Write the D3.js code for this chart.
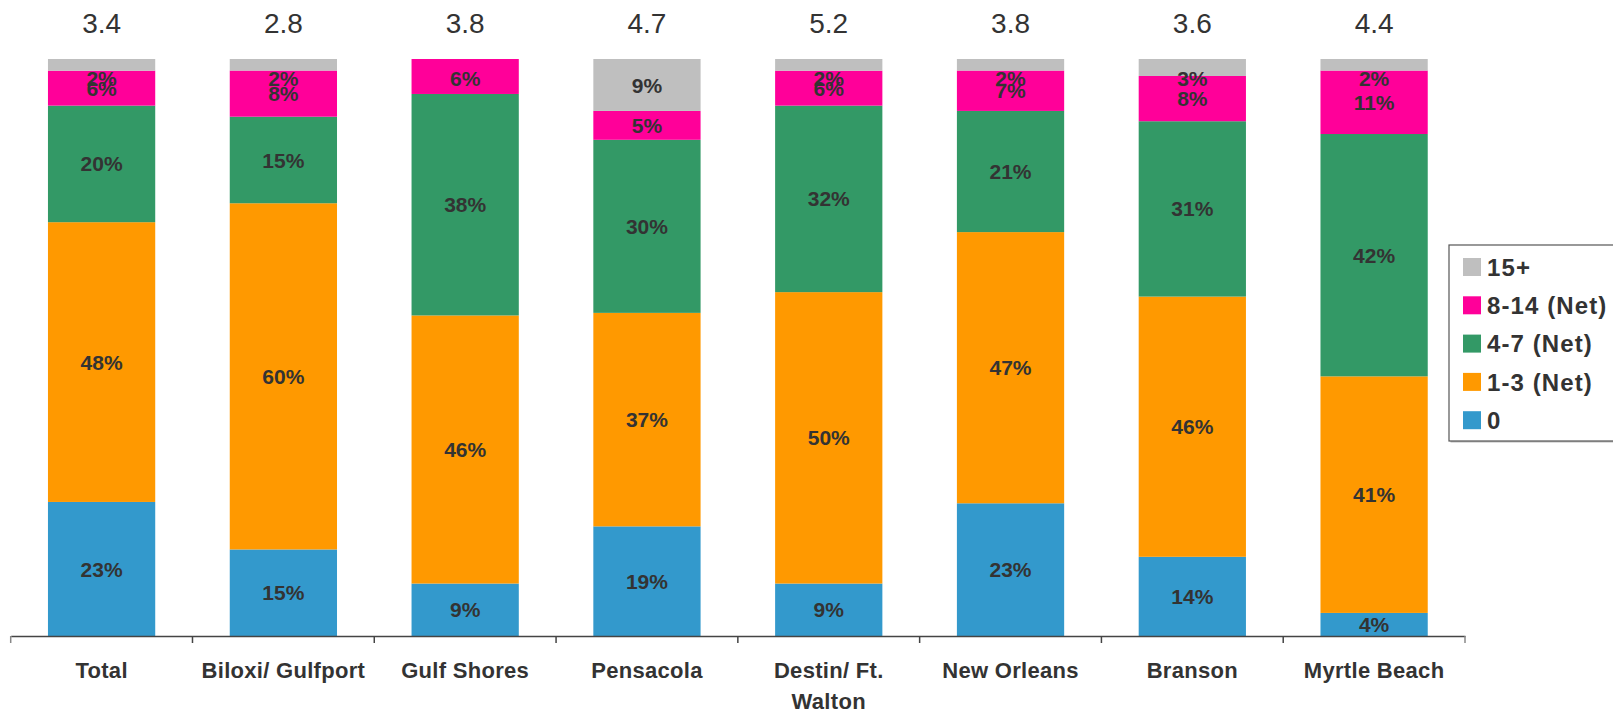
<!DOCTYPE html>
<html>
<head>
<meta charset="utf-8">
<script src="https://cdn.jsdelivr.net/npm/d3@7"></script>
<style>
  body { margin: 0; background: #fff; }
  svg { display: block; font-family: "Liberation Sans", Arial, sans-serif; }
</style>
</head>
<body>
<div id="container"></div>
<script>
// data
let categories = ["Total", "Biloxi/ Gulfport", "Gulf Shores", "Pensacola", "Destin/ Ft. Walton", "New Orleans", "Branson", "Myrtle Beach"];
let averages = [3.4, 2.8, 3.8, 4.7, 5.2, 3.8, 3.6, 4.4];
let seriesNames = ["0", "1-3 (Net)", "4-7 (Net)", "8-14 (Net)", "15+"];
let zero = [23, 15, 9, 19, 9, 23, 14, 4];
let oneToThree = [48, 60, 46, 37, 50, 47, 46, 41];
let fourToSeven = [20, 15, 38, 30, 32, 21, 31, 42];
let eightToFourteen = [6, 8, 6, 5, 6, 7, 8, 11];
let fifteenPlus = [2, 2, 0, 9, 2, 2, 3, 2];
let colors = ["#3399CC", "#FF9900", "#339966", "#FF0099", "#BFBFBF"];

let W = 1613, H = 711;
let textColor = "#333333";
let plotTop = 59, plotBottom = 636;

let svg = d3.select("#container").append("svg")
	.attr("width", W).attr("height", H);

// rows for the stack
let rows = categories.map(function(c, i){
	return {cat: c, "0": zero[i], "1-3 (Net)": oneToThree[i], "4-7 (Net)": fourToSeven[i],
		"8-14 (Net)": eightToFourteen[i], "15+": fifteenPlus[i]};
});
let stack = d3.stack().keys(seriesNames).offset(d3.stackOffsetExpand);
let layers = stack(rows);

let xScale = d3.scaleBand().domain(categories).range([10.7, 1465]).padding(0);
let yScale = d3.scaleLinear().domain([0, 1]).range([plotBottom, plotTop]);
let barW = xScale.bandwidth() * 0.59;
let color = d3.scaleOrdinal().domain(seriesNames).range(colors);

// bars
let layerG = svg.selectAll("g.layer").data(layers).enter().append("g")
	.attr("class", "layer")
	.attr("fill", d => color(d.key));
layerG.selectAll("rect").data(d => d).enter().append("rect")
	.attr("x", d => xScale(d.data.cat) + (xScale.bandwidth() - barW) / 2)
	.attr("width", barW)
	.attr("y", d => yScale(d[1]))
	.attr("height", d => yScale(d[0]) - yScale(d[1]));

// segment labels (kept inside the plot area like the original)
layers.forEach(function(layer){
	layer.forEach(function(d){
		let v = d.data[layer.key];
		if (!v) return;
		let cy = (yScale(d[0]) + yScale(d[1])) / 2;
		cy = Math.max(cy, plotTop + 19);
		cy = Math.min(cy, plotBottom - 11);
		svg.append("text")
			.attr("x", xScale(d.data.cat) + xScale.bandwidth() / 2)
			.attr("y", cy)
			.attr("dy", "0.36em")
			.attr("text-anchor", "middle")
			.attr("font-size", 21)
			.attr("font-weight", "bold")
			.attr("fill", textColor)
			.text(v + "%");
	});
});

// averages above bars
svg.selectAll("text.avg").data(averages).enter().append("text")
	.attr("class", "avg")
	.attr("x", (d, i) => xScale(categories[i]) + xScale.bandwidth() / 2)
	.attr("y", 33)
	.attr("text-anchor", "middle")
	.attr("font-size", 28)
	.attr("fill", textColor)
	.text(d => d.toFixed(1));

// x axis: labels from axisBottom, ticks at band edges
let axisG = svg.append("g")
	.attr("transform", "translate(0," + plotBottom + ")")
	.call(d3.axisBottom(xScale).tickSize(0).tickPadding(26));
axisG.select(".domain").attr("stroke", "#444").attr("stroke-width", 1.5);
axisG.selectAll(".tick text")
	.attr("font-size", 22)
	.attr("font-weight", "bold")
	.attr("letter-spacing", "0.3px")
	.attr("fill", textColor)
	.attr("font-family", "Liberation Sans, Arial, sans-serif")
	.call(wrap, 172);
categories.concat([null]).forEach(function(c, i){
	let xx = c === null ? xScale.range()[1] : xScale(c);
	svg.append("line")
		.attr("x1", xx).attr("x2", xx)
		.attr("y1", plotBottom).attr("y2", plotBottom + 7)
		.attr("stroke", (i === 0 || c === null) ? "#888" : "#444")
		.attr("stroke-width", 1.5);
});

function wrap(sel, width){
	sel.each(function(){
		let text = d3.select(this);
		let words = text.text().split(/\s+/);
		let y = text.attr("y");
		let dy = parseFloat(text.attr("dy")) || 0;
		text.text(null);
		let line = [];
		let lineNo = 0;
		let tspan = text.append("tspan").attr("x", 0).attr("y", y).attr("dy", dy + "em");
		words.forEach(function(w){
			line.push(w);
			tspan.text(line.join(" "));
			if (tspan.node().getComputedTextLength() > width && line.length > 1) {
				line.pop();
				tspan.text(line.join(" "));
				line = [w];
				lineNo++;
				tspan = text.append("tspan").attr("x", 0).attr("y", y)
					.attr("dy", (lineNo * 1.41 + dy) + "em").text(w);
			}
		});
	});
}

// legend
let legendX = 1449, legendY = 245;
svg.append("rect")
	.attr("x", legendX + 1.5).attr("y", legendY + 1.5)
	.attr("width", 200).attr("height", 196)
	.attr("fill", "#bbb");
svg.append("rect")
	.attr("x", legendX).attr("y", legendY)
	.attr("width", 200).attr("height", 196)
	.attr("fill", "#fff").attr("stroke", "#555").attr("stroke-width", 1.2);
let legendOrder = seriesNames.slice().reverse();
legendOrder.forEach(function(name, i){
	let cy = 267 + i * 38.3;
	svg.append("rect")
		.attr("x", 1463).attr("y", cy - 9)
		.attr("width", 18).attr("height", 18)
		.attr("fill", color(name));
	svg.append("text")
		.attr("x", 1487).attr("y", cy)
		.attr("dy", "0.36em")
		.attr("font-size", 24)
		.attr("font-weight", "bold")
		.attr("letter-spacing", "1.1px")
		.attr("fill", textColor)
		.text(name);
});
</script>
</body>
</html>
